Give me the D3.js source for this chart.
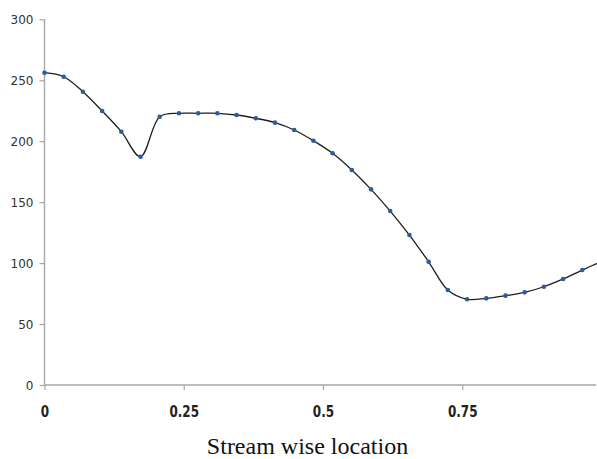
<!DOCTYPE html>
<html>
<head>
<meta charset="utf-8">
<script src="https://cdn.jsdelivr.net/npm/d3@7"></script>
<style>
  html, body { margin: 0; padding: 0; background: #fff; }
  svg { display: block; }
</style>
</head>
<body>
<svg id="chart" width="597" height="459"></svg>
<script>
// ---- data ----
const xValues = d3.range(30).map(i => i / 29); // evenly spaced stream-wise stations
const yValues = [256.2, 252.9, 240.6, 224.8, 207.8, 187.3, 220.1, 222.9, 222.9, 222.9,
                 221.5, 218.8, 215.2, 209.2, 200.4, 190.1, 176.4, 160.5, 142.7, 123.0,
                 101.1, 77.9, 70.3, 71.1, 73.3, 76.0, 80.6, 87.0, 94.3, 101.4];
const yTicks = [0, 50, 100, 150, 200, 250, 300];
const xTicks = [0, 0.25, 0.5, 0.75];
const xTickLabels = ["0", "0.25", "0.5", "0.75"];
const xTitle = "Stream wise location";

const data = xValues.map((x, i) => ({ x, y: yValues[i] }));

const svg = d3.select("#chart");
const x = d3.scaleLinear().domain([0, 1]).range([44.5, 601.5]);
const y = d3.scaleLinear().domain([0, 300]).range([385, 19.3]);

const axisColor = "#a6a6a6";

// y axis
const yAxis = svg.append("g").attr("transform", "translate(44.5,0)")
  .call(d3.axisLeft(y).tickValues(yTicks).tickSize(5).tickPadding(6).tickFormat(d3.format("d")));
yAxis.select(".domain").attr("stroke", axisColor).attr("stroke-width", 1.4).attr("d", `M0,${y(300)}V${y(0)}`);
yAxis.selectAll(".tick line").attr("stroke", axisColor).attr("stroke-width", 1.2);
yAxis.selectAll(".tick text")
  .attr("fill", "#333").attr("font-family", "DejaVu Sans").attr("font-size", 12)
  .attr("dy", "0.36em");

// x axis
const xAxis = svg.append("g").attr("transform", `translate(0,${y(0)})`)
  .call(d3.axisBottom(x).tickValues(xTicks).tickSize(5).tickFormat((d, i) => xTickLabels[i]));
xAxis.select(".domain").attr("stroke", axisColor).attr("stroke-width", 1.4).attr("d", `M${x(0)},0H596`);
xAxis.selectAll(".tick line").attr("stroke", axisColor).attr("stroke-width", 1.2);
xAxis.selectAll(".tick text").remove();
xAxis.selectAll(".tick").append("text")
  .attr("fill", "#222").attr("font-family", "DejaVu Sans").attr("font-weight", "bold")
  .attr("font-size", 12).attr("text-anchor", "middle")
  .attr("transform", "translate(0,32) scale(1,1.35)")
  .text((d, i) => xTickLabels[i]);

// line
const line = d3.line().x(d => x(d.x)).y(d => y(d.y)).curve(d3.curveCatmullRom.alpha(0.5));
svg.append("path").datum(data)
  .attr("fill", "none").attr("stroke", "#1e1e1e").attr("stroke-width", 1.3)
  .attr("d", line);

// markers
svg.append("g").selectAll("circle").data(data.slice(0, 29)).join("circle")
  .attr("cx", d => x(d.x)).attr("cy", d => y(d.y)).attr("r", 2.3)
  .attr("fill", "#2b5c9e");

// x title
svg.append("text")
  .attr("x", 307.5).attr("y", 454)
  .attr("text-anchor", "middle")
  .attr("font-family", "Liberation Serif").attr("font-size", 24)
  .attr("fill", "#111")
  .text(xTitle);
</script>
</body>
</html>
